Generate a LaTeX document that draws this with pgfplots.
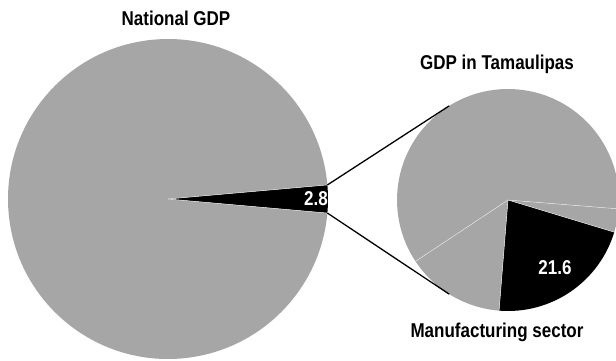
\documentclass[border=0pt]{standalone}
\usepackage{pgfplots}
\pgfplotsset{compat=1.18}
\usepackage{pgfplotstable}
\usetikzlibrary{calc}
\usepackage{fontspec}
\setmainfont{Liberation Sans}[FakeStretch=0.85]
\definecolor{piegray}{RGB}{166,166,166}

\pgfplotstableread{
share fill
2.8 black
97.2 piegray
}\national
\pgfplotstableread{
share fill
21.6 black
3.4 piegray
60.6 piegray
14.4 piegray
}\tamaulipas

% #1 table, #2 cx, #3 cy, #4 radius, #5 start angle
\newcommand\drawpie[5]{%
  \pgfplotstablegetrowsof{#1}\edef\nrows{\pgfplotsretval}%
  \pgfmathtruncatemacro\lastrow{\nrows-1}%
  \xdef\curang{#5}%
  \foreach \i in {0,...,\lastrow}{%
    \pgfplotstablegetelem{\i}{share}\of{#1}\let\sh\pgfplotsretval
    \pgfplotstablegetelem{\i}{fill}\of{#1}\let\fc\pgfplotsretval
    \pgfmathsetmacro\endang{\curang+3.6*\sh}%
    \fill[fill=\fc] (axis cs:#2,#3) -- ++(\curang:#4pt) arc[start angle=\curang, end angle=\endang, radius=#4pt] -- cycle;
    \xdef\curang{\endang}%
  }%
  \xdef\curang{#5}%
  \foreach \i in {0,...,\lastrow}{%
    \pgfplotstablegetelem{\i}{share}\of{#1}\let\sh\pgfplotsretval
    \pgfmathsetmacro\endang{\curang+3.6*\sh}%
    \draw[white!85!gray, line width=0.4pt] (axis cs:#2,#3) -- ++(\curang:#4pt);
    \xdef\curang{\endang}%
  }%
}

\begin{document}
\begin{tikzpicture}
\clip (0,0) rectangle (616pt,360pt);
\begin{axis}[
  at={(0,0)}, anchor=south west,
  x=1pt, y=1pt, scale only axis,
  xmin=0, xmax=616, ymin=0, ymax=360,
  hide axis, clip=true,
]
\pgfplotsextra{%
  \drawpie{\national}{168}{161}{160}{-5.04}%
  \drawpie{\tamaulipas}{508}{160}{111}{-94.6}%
  \draw[black, line width=1.3pt] ($(axis cs:168,161)+(5.04:160pt)$) -- ($(axis cs:508,160)+(122:111pt)$);
  \draw[black, line width=1.3pt] ($(axis cs:168,161)+(-5.04:160pt)$) -- ($(axis cs:508,160)+(-122:111pt)$);
}
\node[font=\bfseries\fontsize{20}{23}\selectfont] at (axis cs:176,342) {National GDP};
\node[font=\bfseries\fontsize{20}{23}\selectfont] at (axis cs:497,296) {GDP in Tamaulipas};
\node[font=\bfseries\fontsize{20}{23}\selectfont] at (axis cs:497,28) {Manufacturing sector};
\node[font=\bfseries\fontsize{20}{23}\selectfont, white] at (axis cs:316,161) {2.8};
\node[font=\bfseries\fontsize{20}{23}\selectfont, white] at (axis cs:555,92) {21.6};
\end{axis}
\end{tikzpicture}
\end{document}
